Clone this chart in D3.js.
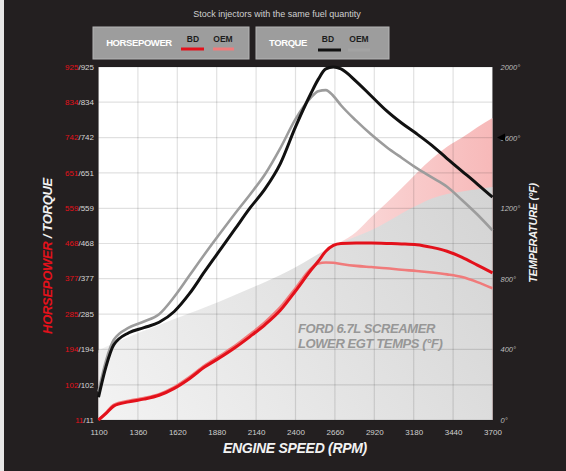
<!DOCTYPE html>
<html><head><meta charset="utf-8">
<script src="https://cdn.jsdelivr.net/npm/d3@7"></script>
<style>
html,body{margin:0;padding:0;background:#231f20;}
svg{display:block;}
text{font-family:"Liberation Sans",Arial,sans-serif;}
</style></head>
<body>
<svg id="c" width="566" height="471"></svg>
<script>
// ---------- data ----------
const rpm        = [1100,1150,1200,1300,1400,1500,1600,1700,1800,1900,2000,2100,2200,2300,2400,2500,2550,2600,2650,2700,2800,2900,3000,3100,3200,3300,3400,3500,3600,3700];
const torqueBD   = [70,150,205,237,250,264,292,338,395,450,505,560,610,675,770,855,893,920,925,920,888,850,812,780,752,722,688,655,622,588];
const torqueOEM  = [85,165,218,250,266,285,330,385,440,493,545,595,648,715,790,845,862,865,850,826,786,750,718,690,663,639,615,580,543,502];
const hpBD       = [11,28,47,58,65,75,93,118,148,172,198,227,258,295,345,398,422,448,463,468,469,469,468,467,465,458,448,432,412,392];
const hpOEM      = [11,30,50,61,68,78,96,122,152,177,203,233,265,303,352,402,416,419,418,415,410,407,404,400,397,393,388,381,368,352];
const egtBD      = [395,415,435,470,505,538,572,605,638,672,708,745,782,822,865,915,940,965,985,1005,1040,1075,1120,1170,1215,1255,1280,1295,1308,1320];
const egtOEM     = [380,400,420,455,490,523,557,590,623,657,693,730,767,807,850,900,930,960,990,1010,1065,1150,1230,1313,1400,1480,1548,1600,1658,1711];

const xTicks     = [1100,1360,1620,1880,2140,2400,2660,2920,3180,3440,3700];
const hpTicks    = [11,102,194,285,377,468,559,651,742,834,925];
const tqTicks    = [11,102,194,285,377,468,559,651,742,834,925];
const tempTicks  = [0,400,800,1200,1600,2000];

const titleText  = "Stock injectors with the same fuel quantity";
const noteLines  = ["FORD 6.7L SCREAMER","LOWER EGT TEMPS (°F)"];

// ---------- chart ----------
const svg = d3.select("#c");
const L=98.5, R=492.5, T=67, B=420;
const x  = d3.scaleLinear().domain([1100,3700]).range([L,R]);
const y  = d3.scaleLinear().domain([11,925]).range([B,T]);
const yT = d3.scaleLinear().domain([0,2000]).range([B,T]);

svg.append("rect").attr("width",566).attr("height",471).attr("fill","#231f20");
svg.append("rect").attr("x",0).attr("y",0).attr("width",4).attr("height",471).attr("fill","#e6e6e6");

const defs = svg.append("defs");
const gG = defs.append("linearGradient").attr("id","gGray").attr("gradientUnits","userSpaceOnUse")
  .attr("x1",L).attr("y1",B).attr("x2",R).attr("y2",150);
gG.append("stop").attr("offset","0").attr("stop-color","#f3f3f3");
gG.append("stop").attr("offset","1").attr("stop-color","#d2d2d2");
const gP = defs.append("linearGradient").attr("id","gPink").attr("gradientUnits","userSpaceOnUse")
  .attr("x1",300).attr("y1",0).attr("x2",R).attr("y2",0);
gP.append("stop").attr("offset","0").attr("stop-color","#fbe3e3");
gP.append("stop").attr("offset","1").attr("stop-color","#f7b9b9");

svg.append("rect").attr("x",L).attr("y",T).attr("width",R-L).attr("height",B-T).attr("fill","#ffffff");

const idx = d3.range(rpm.length);
const area = arr => d3.area().x(i=>x(rpm[i])).y0(B).y1(i=>yT(arr[i])).curve(d3.curveMonotoneX)(idx);
svg.append("path").attr("d",area(egtOEM)).attr("fill","url(#gPink)");
svg.append("path").attr("d",area(egtBD)).attr("fill","url(#gGray)");

// grid
const grid = svg.append("g").attr("stroke","rgba(0,0,0,0.12)").attr("stroke-width",1.2);
xTicks.forEach(v=>grid.append("line").attr("x1",x(v)).attr("x2",x(v)).attr("y1",T).attr("y2",B));
hpTicks.forEach(v=>grid.append("line").attr("x1",L).attr("x2",R).attr("y1",y(v)).attr("y2",y(v)));

// note text
const note = svg.append("text").attr("x",298).attr("y",333).attr("fill","#979797")
  .attr("font-size",13).attr("font-weight","bold").attr("font-style","italic").attr("letter-spacing",-0.4);
noteLines.forEach((s,i)=>note.append("tspan").attr("x",298).attr("dy",i?15:0).text(s));

// lines
const line = arr => d3.line().x(i=>x(rpm[i])).y(i=>y(arr[i])).curve(d3.curveMonotoneX)(idx);
svg.append("path").attr("d",line(hpOEM)).attr("fill","none").attr("stroke","#f07b7b").attr("stroke-width",2.6);
svg.append("path").attr("d",line(hpBD)).attr("fill","none").attr("stroke","#e3111b").attr("stroke-width",3);
svg.append("path").attr("d",line(torqueOEM)).attr("fill","none").attr("stroke","#9c9c9c").attr("stroke-width",2.6);
svg.append("path").attr("d",line(torqueBD)).attr("fill","none").attr("stroke","#111111").attr("stroke-width",3);

// x axis
const xa = svg.append("g").attr("transform",`translate(0,${B})`)
  .call(d3.axisBottom(x).tickValues(xTicks).tickSize(0).tickPadding(9).tickFormat(d3.format("d")));
xa.select(".domain").remove();
xa.selectAll("text").attr("fill","#cfcfcf").attr("font-size",8).attr("font-family","Liberation Sans, Arial, sans-serif");

// left axis (HP red / torque light)
const ya = svg.append("g");
hpTicks.forEach((v,i)=>{
  const t = ya.append("text").attr("x",94).attr("y",y(v)).attr("dy","0.35em").attr("text-anchor","end").attr("font-size",8);
  t.append("tspan").attr("fill","#e3111b").text(v);
  t.append("tspan").attr("fill","#d6d6d6").text("/"+tqTicks[i]);
});

// right axis
const yr = svg.append("g").attr("transform",`translate(${R},0)`)
  .call(d3.axisRight(yT).tickValues(tempTicks).tickSize(0).tickPadding(8).tickFormat(d=>d+"°"));
yr.select(".domain").remove();
yr.selectAll("text").attr("fill","#bdbdbd").attr("font-size",7.5).attr("font-style","italic").attr("font-family","Liberation Sans, Arial, sans-serif");
svg.append("path").attr("d",`M497,${yT(1600)} L505,${yT(1600)-4} L505,${yT(1600)+4} Z`).attr("fill","#000");

// axis titles
svg.append("text").attr("x",295).attr("y",453).attr("text-anchor","middle").attr("fill","#f2f2f2")
  .attr("font-size",14).attr("font-weight","bold").attr("font-style","italic").attr("letter-spacing",-0.3)
  .text("ENGINE SPEED (RPM)");
const lt = svg.append("text").attr("transform","translate(52,256) rotate(-90)").attr("text-anchor","middle")
  .attr("font-size",13).attr("font-weight","bold").attr("font-style","italic").attr("letter-spacing",-0.3);
lt.append("tspan").attr("fill","#e3111b").text("HORSEPOWER");
lt.append("tspan").attr("fill","#f2f2f2").text(" / TORQUE");
svg.append("text").attr("transform","translate(537,233) rotate(-90)").attr("text-anchor","middle")
  .attr("fill","#f2f2f2").attr("font-size",11).attr("font-weight","bold").attr("font-style","italic").attr("letter-spacing",-0.3)
  .text("TEMPERATURE (°F)");

// title
svg.append("text").attr("x",277).attr("y",17).attr("text-anchor","middle").attr("fill","#cfcfcf")
  .attr("font-size",9).text(titleText);

// legend
function box(x0,w){svg.append("rect").attr("x",x0).attr("y",27).attr("width",w).attr("height",32)
  .attr("fill","#9d9d9d").attr("stroke","#b5b5b5").attr("stroke-width",1);}
box(93,156); box(256,133);
const lg = (tx,tyx)=>svg.append("text").attr("x",tx).attr("y",tyx).attr("text-anchor","middle");
lg(139,46).attr("fill","#fff").attr("font-size",9.5).attr("font-weight","bold").attr("letter-spacing",-0.4).text("HORSEPOWER");
lg(193,42).attr("fill","#1d1d1d").attr("font-size",8.5).attr("font-weight","bold").text("BD");
lg(223,42).attr("fill","#1d1d1d").attr("font-size",8.5).attr("font-weight","bold").text("OEM");
svg.append("line").attr("x1",181).attr("x2",204).attr("y1",49).attr("y2",49).attr("stroke","#e3111b").attr("stroke-width",3);
svg.append("line").attr("x1",213).attr("x2",234).attr("y1",49).attr("y2",49).attr("stroke","#f07b7b").attr("stroke-width",3);
lg(288,46).attr("fill","#fff").attr("font-size",9.5).attr("font-weight","bold").attr("letter-spacing",-0.4).text("TORQUE");
lg(328,42).attr("fill","#1d1d1d").attr("font-size",8.5).attr("font-weight","bold").text("BD");
lg(359,42).attr("fill","#1d1d1d").attr("font-size",8.5).attr("font-weight","bold").text("OEM");
svg.append("line").attr("x1",318).attr("x2",341).attr("y1",50).attr("y2",50).attr("stroke","#111").attr("stroke-width",3);
svg.append("line").attr("x1",348).attr("x2",370).attr("y1",50).attr("y2",50).attr("stroke","#a3a3a3").attr("stroke-width",3);
</script>
</body></html>
